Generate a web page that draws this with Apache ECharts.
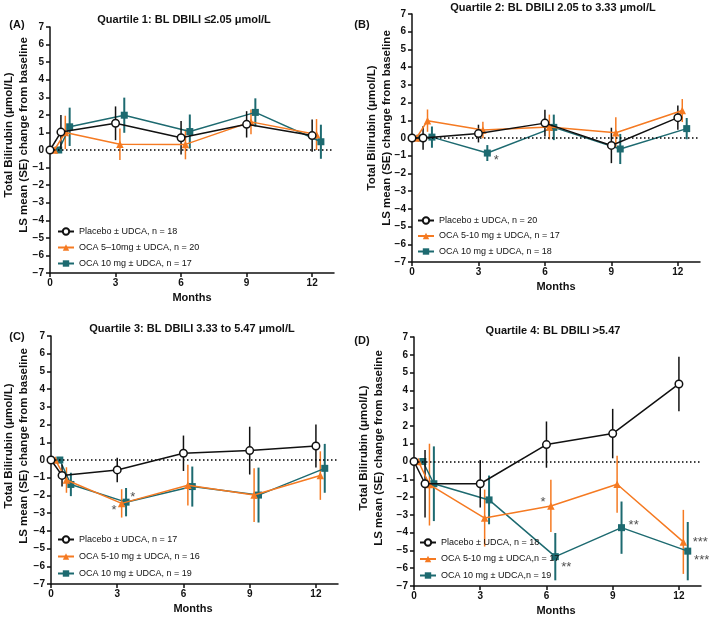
<!DOCTYPE html>
<html>
<head>
<meta charset="utf-8">
<script src="https://cdn.jsdelivr.net/npm/echarts@6/dist/echarts.min.js"></script>
<style>
  html, body { margin: 0; padding: 0; background: #fff; }
  #chart { width: 709px; height: 618px; }
</style>
</head>
<body>
<div id="chart"></div>
<script>
// time points (months), each group nudged right so the bars don't overlap
const placeboMonths = [0, 0.5, 3, 6, 9, 12];
const oca510Months = [0.2, 0.7, 3.2, 6.2, 9.2, 12.2];
const oca10Months = [0.4, 0.9, 3.4, 6.4, 9.4, 12.4];
const xTicks = [0, 3, 6, 9, 12];

// Quartile 1
const q1PlaceboMean = [0, 1.02, 1.52, 0.7, 1.46, 0.82];
const q1PlaceboSE = [0, 0.97, 0.96, 0.95, 0.75, 0.92];
const q1Oca510Mean = [0, 1.0, 0.33, 0.32, 1.6, 0.88];
const q1Oca510SE = [0, 0.95, 0.9, 0.85, 0.7, 0.88];
const q1Oca10Mean = [0, 1.32, 1.98, 1.05, 2.14, 0.47];
const q1Oca10SE = [0, 1.09, 1.0, 0.97, 0.8, 0.97];
const q1Names = ['Placebo ± UDCA, n = 18', 'OCA 5–10mg ± UDCA, n = 20', 'OCA 10 mg ± UDCA, n = 17'];
const q1Stars = [];

// Quartile 2
const q2PlaceboMean = [0, 0, 0.25, 0.84, -0.42, 1.15];
const q2PlaceboSE = [0, 0.66, 0.5, 0.75, 1.0, 0.68];
const q2Oca510Mean = [0, 0.98, 0.45, 0.62, 0.3, 1.55];
const q2Oca510SE = [0, 0.63, 0.47, 0.7, 0.87, 0.65];
const q2Oca10Mean = [0, 0.05, -0.85, 0.6, -0.62, 0.53];
const q2Oca10SE = [0, 0.6, 0.45, 0.72, 0.85, 0.6];
const q2Names = ['Placebo ± UDCA, n = 20', 'OCA 5-10 mg ± UDCA, n = 17', 'OCA 10 mg ± UDCA, n = 18'];
const q2Stars = [[3.8, -1.12, '*']];

// Quartile 3
const q3PlaceboMean = [0, -0.87, -0.56, 0.38, 0.53, 0.79];
const q3PlaceboSE = [0, 0.62, 0.69, 1.0, 1.35, 1.22];
const q3Oca510Mean = [0, -1.13, -2.45, -1.42, -1.98, -0.88];
const q3Oca510SE = [0, 0.72, 0.8, 1.15, 1.52, 1.37];
const q3Oca10Mean = [0, -1.38, -2.38, -1.5, -1.98, -0.47];
const q3Oca10SE = [0, 0.66, 0.8, 1.13, 1.55, 1.38];
const q3Names = ['Placebo ± UDCA, n = 17', 'OCA 5-10 mg ± UDCA, n = 16', 'OCA 10 mg ± UDCA, n = 19'];
const q3Stars = [[2.85, -2.7, '*'], [3.7, -1.95, '*']];

// Quartile 4
const q4PlaceboMean = [0, -1.25, -1.25, 0.95, 1.57, 4.36];
const q4PlaceboSE = [0, 1.9, 1.33, 1.3, 1.39, 1.53];
const q4Oca510Mean = [0, -1.3, -3.18, -2.5, -1.28, -4.52];
const q4Oca510SE = [0, 2.3, 1.6, 1.47, 1.6, 1.8];
const q4Oca10Mean = [0, -1.25, -2.16, -5.35, -3.72, -5.04];
const q4Oca10SE = [0, 2.1, 1.37, 1.33, 1.47, 1.64];
const q4Names = ['Placebo ± UDCA, n = 18', 'OCA 5-10 mg ± UDCA,n = 17', 'OCA 10 mg ± UDCA,n = 19'];
const q4Stars = [[5.85, -2.15, '*'], [6.9, -5.8, '**'], [9.95, -3.4, '**'], [12.97, -4.4, '***'], [13.03, -5.42, '***']];

const titles = [
  'Quartile 1: BL DBILI ≤2.05 μmol/L',
  'Quartile 2: BL DBILI 2.05 to 3.33 μmol/L',
  'Quartile 3: BL DBILI 3.33 to 5.47 μmol/L',
  'Quartile 4: BL DBILI >5.47'
];
const panelTags = ['(A)', '(B)', '(C)', '(D)'];

const BLACK = '#111';
const ORANGE = '#f57a22';
const TEAL = '#1d6a70';
const FONT = 'Liberation Sans, Arial, sans-serif';

const panels = [
  { names: q1Names, stars: q1Stars,
    groups: [[q1PlaceboMean, q1PlaceboSE], [q1Oca510Mean, q1Oca510SE], [q1Oca10Mean, q1Oca10SE]],
    grid: { left: 50, top: 27, width: 284, height: 246 },
    legend: { left: 57, top: 227, itemGap: 7 },
    title: [184, 20], tag: [17, 25], yName: [16.5, 135], months: [192, 298] },
  { names: q2Names, stars: q2Stars,
    groups: [[q2PlaceboMean, q2PlaceboSE], [q2Oca510Mean, q2Oca510SE], [q2Oca10Mean, q2Oca10SE]],
    grid: { left: 412, top: 14, width: 288, height: 248 },
    legend: { left: 417, top: 216, itemGap: 6.5 },
    title: [553, 8], tag: [362, 25], yName: [379.5, 128], months: [556, 287] },
  { names: q3Names, stars: q3Stars,
    groups: [[q3PlaceboMean, q3PlaceboSE], [q3Oca510Mean, q3Oca510SE], [q3Oca10Mean, q3Oca10SE]],
    grid: { left: 51, top: 336, width: 287, height: 248 },
    legend: { left: 57, top: 535, itemGap: 8 },
    title: [192, 329], tag: [17, 337], yName: [16.5, 446], months: [193, 609] },
  { names: q4Names, stars: q4Stars,
    groups: [[q4PlaceboMean, q4PlaceboSE], [q4Oca510Mean, q4Oca510SE], [q4Oca10Mean, q4Oca10SE]],
    grid: { left: 414, top: 337, width: 287, height: 249 },
    legend: { left: 419, top: 538, itemGap: 7.5 },
    title: [553, 331], tag: [362, 341], yName: [371.5, 448], months: [556, 611] }
];

const groupStyle = [
  { months: placeboMonths, color: BLACK, symbol: 'circle', size: 7.5, fill: '#fff', z: 5 },
  { months: oca510Months, color: ORANGE, symbol: 'triangle', size: 7.5, fill: ORANGE, z: 4 },
  { months: oca10Months, color: TEAL, symbol: 'rect', size: 7, fill: TEAL, z: 3 }
];

const chart = echarts.init(document.getElementById('chart'));

const grid = [], xAxis = [], yAxis = [], series = [], legend = [], graphic = [];

panels.forEach((p, i) => {
  grid.push(p.grid);
  xAxis.push({
    gridIndex: i, type: 'value', min: 0, max: 13,
    axisLine: { onZero: false, lineStyle: { color: BLACK, width: 1.5 } },
    axisTick: { length: 4, lineStyle: { color: BLACK, width: 1.5 }, customValues: xTicks },
    axisLabel: { customValues: xTicks, color: BLACK, fontWeight: 'bold', fontSize: 10, fontFamily: FONT, margin: 5 },
    splitLine: { show: false }
  });
  yAxis.push({
    gridIndex: i, type: 'value', min: -7, max: 7, interval: 1,
    axisLine: { show: true, onZero: false, lineStyle: { color: BLACK, width: 1.5 } },
    axisTick: { show: true, length: 4, lineStyle: { color: BLACK, width: 1.5 } },
    axisLabel: {
      color: BLACK, fontWeight: 'bold', fontSize: 10, fontFamily: FONT, margin: 6,
      formatter: v => String(v).replace('-', '−')
    },
    splitLine: { show: false }
  });

  // error bars first so the lines sit on top
  p.groups.forEach((g, k) => {
    const st = groupStyle[k];
    const bars = [];
    st.months.forEach((m, j) => {
      if (g[1][j] > 0) bars.push([m, g[0][j] - g[1][j], g[0][j] + g[1][j]]);
    });
    series.push({
      type: 'custom', xAxisIndex: i, yAxisIndex: i, z: st.z - 1, silent: true,
      encode: { x: 0, y: [1, 2] },
      data: bars,
      renderItem: (params, api) => {
        const a = api.coord([api.value(0), api.value(1)]);
        const b = api.coord([api.value(0), api.value(2)]);
        return {
          type: 'line',
          shape: { x1: a[0], y1: a[1], x2: b[0], y2: b[1] },
          style: { stroke: st.color, lineWidth: k === 2 ? 2 : 1.5 }
        };
      }
    });
  });

  p.groups.forEach((g, k) => {
    const st = groupStyle[k];
    const s = {
      name: p.names[k], type: 'line', xAxisIndex: i, yAxisIndex: i, z: st.z,
      data: st.months.map((m, j) => [m, g[0][j]]),
      symbol: st.symbol, symbolSize: st.size, showAllSymbol: true,
      lineStyle: { color: st.color, width: 1.5 },
      itemStyle: { color: st.fill, borderColor: st.color, borderWidth: k === 0 ? 1.5 : 0 },
      emphasis: { disabled: true }
    };
    if (k === 0) {
      s.markLine = {
        silent: true, symbol: ['none', 'none'], label: { show: false },
        lineStyle: { color: '#000', type: [1.5, 2.5], width: 1.5 },
        data: [{ yAxis: 0 }]
      };
    }
    series.push(s);
  });

  if (p.stars.length) {
    series.push({
      type: 'scatter', xAxisIndex: i, yAxisIndex: i, z: 6, clip: false, silent: true,
      symbolSize: 1, itemStyle: { color: 'rgba(0,0,0,0)' },
      data: p.stars,
      label: {
        show: true, position: 'inside', offset: [0, 3],
        formatter: d => d.data[2], fontSize: 13, color: '#222', fontFamily: FONT
      }
    });
  }

  legend.push({
    orient: 'vertical', left: p.legend.left, top: p.legend.top, padding: 0,
    itemWidth: 16, itemHeight: 8, itemGap: p.legend.itemGap,
    data: p.names, selectedMode: false,
    textStyle: { fontSize: 9, color: BLACK, fontFamily: FONT }
  });

  graphic.push(
    { type: 'text', x: p.title[0], y: p.title[1],
      style: { text: titles[i], fill: BLACK, font: 'bold 11px ' + FONT, align: 'center', verticalAlign: 'middle' } },
    { type: 'text', x: p.tag[0], y: p.tag[1],
      style: { text: panelTags[i], fill: BLACK, font: 'bold 11px ' + FONT, align: 'center', verticalAlign: 'middle' } },
    { type: 'text', x: p.months[0], y: p.months[1],
      style: { text: 'Months', fill: BLACK, font: 'bold 11px ' + FONT, align: 'center', verticalAlign: 'middle' } },
    { type: 'text', x: p.yName[0], y: p.yName[1], rotation: Math.PI / 2,
      style: { text: 'Total Bilirubin (μmol/L)\nLS mean (SE) change from baseline', fill: BLACK,
        font: 'bold 11.5px ' + FONT, lineHeight: 15, align: 'center', verticalAlign: 'middle' } }
  );
});

chart.setOption({
  animation: false,
  textStyle: { fontFamily: FONT },
  grid, xAxis, yAxis, series, legend, graphic
});
</script>
</body>
</html>
